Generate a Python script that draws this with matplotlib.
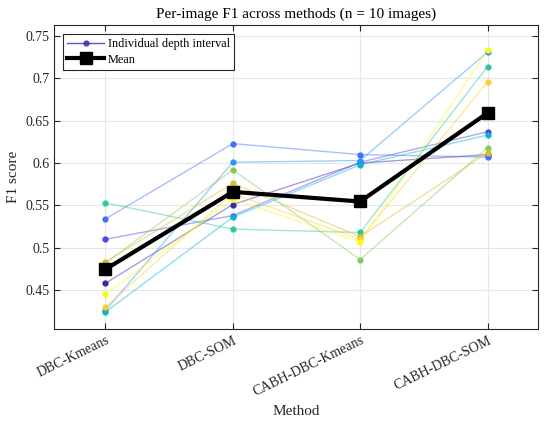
import numpy as np
import matplotlib
matplotlib.use('Agg')
import matplotlib.pyplot as plt
from matplotlib.lines import Line2D

plt.rcParams['font.family'] = ['Liberation Serif', 'DejaVu Serif']

# Methods on the x axis
methods = ['DBC-Kmeans', 'DBC-SOM', 'CABH-DBC-Kmeans', 'CABH-DBC-SOM']

# Per-image F1 (one row per image)
img01 = [0.458, 0.551, 0.600, 0.610]
img02 = [0.510, 0.538, 0.601, 0.637]
img03 = [0.534, 0.623, 0.610, 0.607]
img04 = [0.426, 0.601, 0.603, 0.731]
img05 = [0.424, 0.536, 0.598, 0.633]
img06 = [0.553, 0.522, 0.518, 0.714]
img07 = [0.482, 0.592, 0.486, 0.618]
img08 = [0.483, 0.576, 0.513, 0.612]
img09 = [0.430, 0.564, 0.510, 0.696]
img10 = [0.445, 0.557, 0.507, 0.733]

images = [img01, img02, img03, img04, img05, img06, img07, img08, img09, img10]

# parula(10) colours
parula10 = [
    (0.2422, 0.1504, 0.6603),
    (0.2803, 0.2782, 0.9221),
    (0.2440, 0.4358, 0.9988),
    (0.1540, 0.5902, 0.9218),
    (0.0297, 0.7082, 0.8163),
    (0.1938, 0.7758, 0.6251),
    (0.5044, 0.7993, 0.3480),
    (0.8634, 0.7406, 0.1596),
    (0.9892, 0.8136, 0.1885),
    (0.9769, 0.9839, 0.0805),
]

fig = plt.figure(figsize=(5.5, 4.21), dpi=100)
ax = fig.add_axes([0.099, 0.2185, 0.88, 0.722])

x = np.arange(1, len(methods) + 1)
for vals, col in zip(images, parula10):
    ax.plot(x, vals, '-', color=col, alpha=0.45, lw=1.0, zorder=2)
    ax.plot(x, vals, '.', color=col, ms=7, zorder=3)

mean_vals = np.mean(np.array(images), axis=0)
ax.plot(x, mean_vals, '-s', color='black', lw=3, ms=9, zorder=5)

ax.set_xlim(0.6, 4.4)
ax.set_ylim(0.404, 0.763)
ax.set_xticks(x)
ax.set_xticklabels(methods, rotation=26, ha='right', rotation_mode='anchor')
ax.set_yticks([0.45, 0.5, 0.55, 0.6, 0.65, 0.7, 0.75])
ax.set_yticklabels(['0.45', '0.5', '0.55', '0.6', '0.65', '0.7', '0.75'])
ax.tick_params(direction='in', top=True, right=True, labelsize=10, colors='#262626', length=4)
for sp in ax.spines.values():
    sp.set_color('#262626')
    sp.set_linewidth(0.8)
ax.grid(True, color='#e6e6e6', lw=0.8)
ax.set_axisbelow(True)

ax.set_title('Per-image F1 across methods (n = 10 images)', fontsize=11, color='black', pad=5)
ax.set_xlabel('Method', fontsize=11, color='#262626')
ax.set_ylabel('F1 score', fontsize=11, color='#262626')

handles = [
    Line2D([0], [0], color=parula10[0], lw=1.0, marker='.', ms=7, alpha=0.8),
    Line2D([0], [0], color='black', lw=3, marker='s', ms=8),
]
leg = ax.legend(handles, ['Individual depth interval', 'Mean'], loc='upper left',
                fontsize=8.8, fancybox=False, edgecolor='#262626', framealpha=1,
                borderpad=0.35, labelspacing=0.3, handlelength=3.0, handletextpad=0.3,
                borderaxespad=0.7)
leg.get_frame().set_linewidth(0.8)

fig.savefig('out.png', dpi=100)
